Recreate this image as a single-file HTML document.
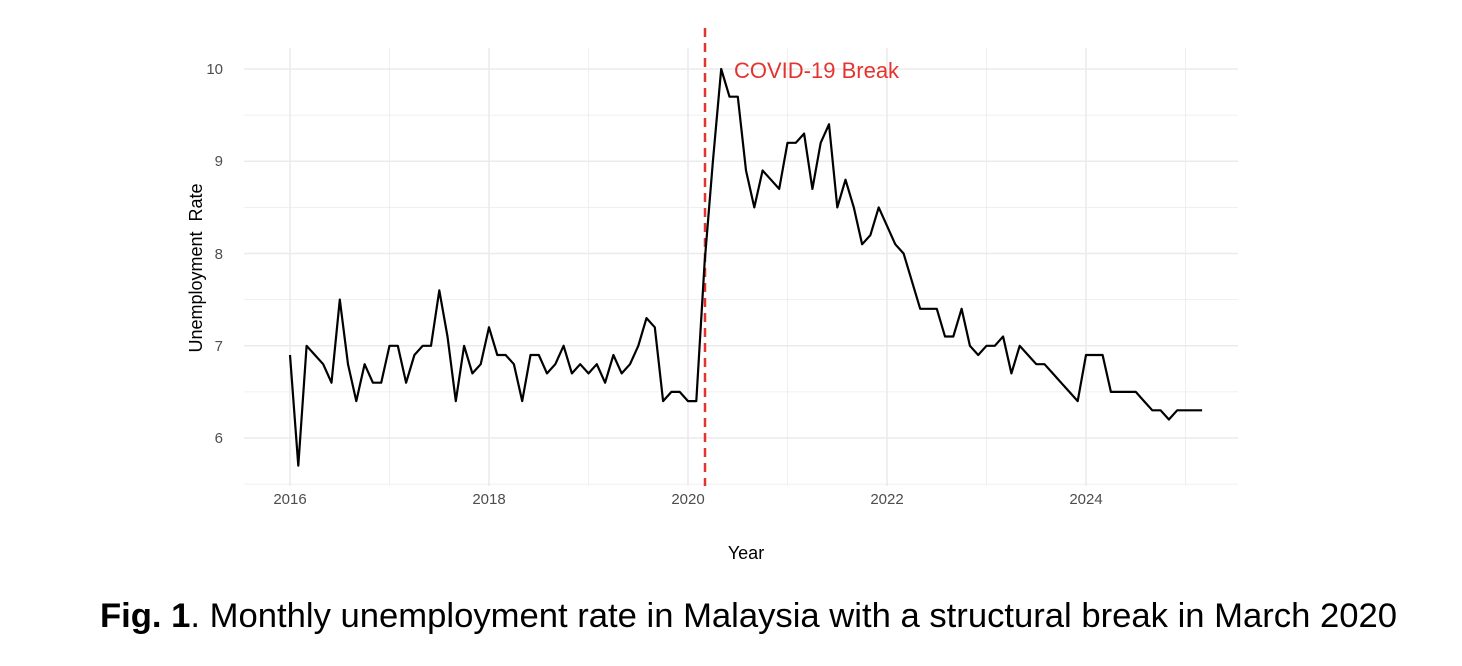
<!DOCTYPE html>
<html><head><meta charset="utf-8"><style>
html,body{margin:0;padding:0;background:#fff;}
svg{display:block;}
</style></head><body>
<svg id="s" width="1462" height="666" xmlns="http://www.w3.org/2000/svg" font-family="Liberation Sans, sans-serif">
<g id="grid"></g>
<g font-size="15" fill="#4d4d4d" text-anchor="end">
<text x="223" y="74">10</text><text x="223" y="166">9</text><text x="223" y="259">8</text><text x="223" y="351">7</text><text x="223" y="443">6</text>
</g>
<g font-size="15" fill="#4d4d4d" text-anchor="middle">
<text x="290" y="504">2016</text><text x="489" y="504">2018</text><text x="688" y="504">2020</text><text x="887" y="504">2022</text><text x="1086" y="504">2024</text>
</g>
<text x="746" y="559" font-size="18" text-anchor="middle" fill="#000">Year</text>
<text transform="translate(202,268) rotate(-90)" font-size="18" text-anchor="middle" fill="#000">Unemployment&#160; Rate</text>
<line x1="705" y1="28" x2="705" y2="486" stroke="#e3342f" stroke-width="2.5" stroke-dasharray="9,6"/>
<text x="734" y="78" font-size="22" fill="#e3342f">COVID-19 Break</text>
<polyline id="pl" fill="none" stroke="#000" stroke-width="2.2" stroke-linejoin="round" points=""/>
<text x="100" y="627" font-size="34" fill="#000" textLength="1297" lengthAdjust="spacingAndGlyphs"><tspan font-weight="bold">Fig. 1</tspan>. Monthly unemployment rate in Malaysia with a structural break in March 2020</text>
</svg>
<script>
var d=[6.9,5.7,7.0,6.9,6.8,6.6,7.5,6.8,6.4,6.8,6.6,6.6,
7.0,7.0,6.6,6.9,7.0,7.0,7.6,7.1,6.4,7.0,6.7,6.8,
7.2,6.9,6.9,6.8,6.4,6.9,6.9,6.7,6.8,7.0,6.7,6.8,
6.7,6.8,6.6,6.9,6.7,6.8,7.0,7.3,7.2,6.4,6.5,6.5,
6.4,6.4,7.9,9.0,10.0,9.7,9.7,8.9,8.5,8.9,8.8,8.7,
9.2,9.2,9.3,8.7,9.2,9.4,8.5,8.8,8.5,8.1,8.2,8.5,
8.3,8.1,8.0,7.7,7.4,7.4,7.4,7.1,7.1,7.4,7.0,6.9,
7.0,7.0,7.1,6.7,7.0,6.9,6.8,6.8,6.7,6.6,6.5,6.4,
6.9,6.9,6.9,6.5,6.5,6.5,6.5,6.4,6.3,6.3,6.2,6.3,
6.3,6.3,6.3];
function X(t){return 290+(t-2016)*99.5;}
function Y(v){return 438-(v-6)*92.25;}
var p=d.map(function(v,i){return X(2016+i/12).toFixed(1)+','+Y(v).toFixed(1);}).join(' ');
document.getElementById('pl').setAttribute('points',p);
var g='';
for(var v=5.5;v<=10.01;v+=0.5){var maj=(Math.abs(v-Math.round(v))<0.01);
g+='<line x1="244" x2="1238" y1="'+Y(v)+'" y2="'+Y(v)+'" stroke="#ebebeb" stroke-width="'+(maj?1.6:0.8)+'"/>';}
for(var t=2016;t<=2025;t+=1){var maj=(t%2==0);
g+='<line y1="48" y2="486" x1="'+X(t)+'" x2="'+X(t)+'" stroke="#ebebeb" stroke-width="'+(maj?1.6:0.8)+'"/>';}
document.getElementById('grid').innerHTML=g;
</script>
</body></html>
